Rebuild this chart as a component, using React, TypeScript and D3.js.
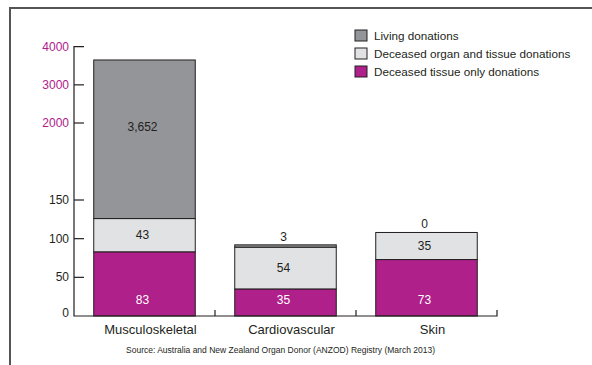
import * as d3 from 'd3'

const categories = ['Musculoskeletal', 'Cardiovascular', 'Skin']
const tissueOnly = [83, 35, 73]
const organAndTissue = [43, 54, 35]
const living = [3652, 3, 0]

const lowerTicks = [0, 50, 100, 150]
const upperTicks = [2000, 3000, 4000]

const legendItems = [
	{ label: 'Living donations', color: '#939598' },
	{ label: 'Deceased organ and tissue donations', color: '#e1e2e4' },
	{ label: 'Deceased tissue only donations', color: '#b0208a' },
]

const source = 'Source: Australia and New Zealand Organ Donor (ANZOD) Registry (March 2013)'

const width = 592
const height = 365
const axisX = 74
const axisRight = 497
const baseY = 316
const font = '"Liberation Sans", Arial, sans-serif'
const stroke = '#231f20'
const magenta = '#b0208a'

const App = () => {
	// broken axis: linear 0-150 below, 2000-4000 above
	const yLow = d3.scaleLinear().domain([0, 150]).range([baseY, 200])
	const yHigh = d3.scaleLinear().domain([2000, 4000]).range([123, 46.7])
	const y = (v: number) => (v <= 150 ? yLow(v) : yHigh(v))

	const x = d3
		.scaleBand()
		.domain(categories)
		.range([axisX, axisRight])
		.paddingInner(0.28)
		.paddingOuter(0.14)

	const colors = legendItems.map((d) => d.color)

	const segs = categories.flatMap((c, i) => {
		const a = tissueOnly[i]
		const b = a + organAndTissue[i]
		// living segment top: big values read against the upper scale
		const top = living[i] > 150 ? yHigh(living[i]) : y(b + living[i])
		return [
			{ c, y0: y(0), y1: y(a), fill: colors[2] },
			{ c, y0: y(a), y1: y(b), fill: colors[1] },
			{ c, y0: y(b), y1: top, fill: colors[0] },
		]
	})

	const step = x.step()
	const catTicks = categories.map((c) => (x(c) as number) - (x.bandwidth() * 0.14) / 0.72 + step)

	return (
		<svg
			width={width}
			height={height}
			style={{ position: 'absolute', left: 0, top: 0, fontFamily: font }}
		>
			<rect width={width} height={height} fill="#fff" />
			{/* frame */}
			<path d={`M10,${height}V8H${width}`} fill="none" stroke="#555" strokeWidth={2} />

			{/* bars */}
			{segs
				.filter((s) => s.y0 - s.y1 > 0.01)
				.map((s, i) => (
					<rect
						key={i}
						x={x(s.c)}
						y={s.y1}
						width={x.bandwidth()}
						height={s.y0 - s.y1}
						fill={s.fill}
						stroke={stroke}
						strokeWidth={1}
					/>
				))}

			{/* axes */}
			<path
				d={`M${axisX + 10},${yHigh(4000)}H${axisX}V${baseY}H${axisRight}V${baseY - 6}`}
				fill="none"
				stroke={stroke}
				strokeWidth={1.2}
			/>
			{[...lowerTicks.slice(1).map((t) => yLow(t)), ...upperTicks.slice(0, 2).map((t) => yHigh(t))].map(
				(ty, i) => (
					<line key={i} x1={axisX} x2={axisX + 10} y1={ty} y2={ty} stroke={stroke} strokeWidth={1.2} />
				)
			)}
			{catTicks.slice(0, 2).map((tx, i) => (
				<line key={i} x1={tx} x2={tx} y1={baseY} y2={baseY - 6} stroke={stroke} strokeWidth={1.2} />
			))}
			{lowerTicks.map((t) => (
				<text key={t} x={axisX - 5} y={yLow(t) + (t === 0 ? 1 : 4)} textAnchor="end" fontSize={12} fill="#231f20">
					{t}
				</text>
			))}
			{upperTicks.map((t) => (
				<text key={t} x={axisX - 5} y={yHigh(t) + 4} textAnchor="end" fontSize={12} fill={magenta}>
					{t}
				</text>
			))}

			{/* value labels */}
			{categories.map((c, i) => {
				const cx = (x(c) as number) + x.bandwidth() / 2 - 2
				const a = tissueOnly[i]
				const b = a + organAndTissue[i]
				return (
					<g key={c} fontSize={12} textAnchor="middle">
						<text x={cx} y={baseY - 12} fill="#fff">
							{tissueOnly[i]}
						</text>
						<text x={cx} y={(y(a) + y(b)) / 2 + 4} fill="#231f20">
							{organAndTissue[i]}
						</text>
						{living[i] > 150 ? (
							<text x={cx} y={yHigh(2000) + 8} fill="#231f20">
								{d3.format(',')(living[i])}
							</text>
						) : (
							<text x={cx} y={y(b + living[i]) - 4} fill="#231f20">
								{living[i]}
							</text>
						)}
					</g>
				)
			})}

			{/* category labels */}
			{categories.map((c) => (
				<text
					key={c}
					x={(x(c) as number) + x.bandwidth() / 2 + 6}
					y={334}
					textAnchor="middle"
					fontSize={13}
					fill="#231f20"
				>
					{c}
				</text>
			))}

			<text x={(axisX + axisRight) / 2 - 5} y={353} textAnchor="middle" fontSize={8.5} fill="#231f20">
				{source}
			</text>

			{/* legend */}
			{legendItems.map((d, i) => (
				<g key={d.label} transform={`translate(355,${30 + i * 18})`}>
					<rect width={12} height={11} fill={d.color} stroke={stroke} strokeWidth={1} />
					<text x={19} y={10} fontSize={11.7} fill="#231f20">
						{d.label}
					</text>
				</g>
			))}
		</svg>
	)
}

export default App
